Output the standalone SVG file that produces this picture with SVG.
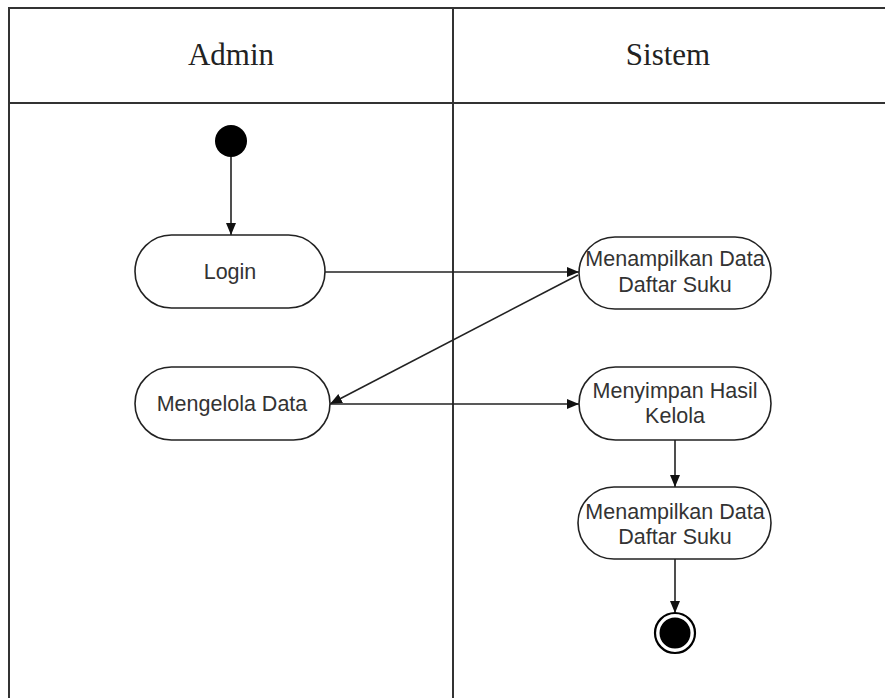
<svg xmlns="http://www.w3.org/2000/svg" width="885" height="698" viewBox="0 0 885 698">
<style>
.lane{fill:none;stroke:#333;stroke-width:2}
.act{fill:#fff;stroke:#222;stroke-width:1.6}
.hd{font-family:"Liberation Serif",serif;font-size:31px;fill:#222;text-anchor:middle}
.lbl{font-family:"Liberation Sans",Arial,sans-serif;font-size:21.5px;fill:#333;text-anchor:middle}
.edge{fill:none;stroke:#222;stroke-width:1.6;marker-end:url(#ah)}
</style>
<defs>
<marker id="ah" viewBox="0 0 12 10" refX="12" refY="5" markerWidth="12" markerHeight="10" markerUnits="userSpaceOnUse" orient="auto">
<path d="M0,0 L12,5 L0,10 Z" fill="#111"/>
</marker>
</defs>
<rect width="885" height="698" fill="#fff"/>
<g id="swimlanes">
<path class="lane" d="M9,698 V8 H886 M453,8 V698 M9,103 H886"/>
<text class="hd" x="231" y="65">Admin</text>
<text class="hd" x="668" y="65">Sistem</text>
</g>
<g id="connectors">
<path class="edge" d="M231,157 V235"/>
<path class="edge" d="M325,272 H579"/>
<path class="edge" d="M578,275 L330,404"/>
<path class="edge" d="M330,404 H579"/>
<path class="edge" d="M675,440 V487"/>
<path class="edge" d="M675,559 V613"/>
</g>
<g id="start"><circle cx="231" cy="141" r="16" fill="#000"/></g>
<g id="login">
<rect class="act" x="135" y="235" width="190" height="73" rx="36.5"/>
<text class="lbl" x="230" y="279">Login</text>
</g>
<g id="tampil1">
<rect class="act" x="579" y="237" width="192" height="72" rx="36"/>
<text class="lbl" x="675" y="266">Menampilkan Data</text>
<text class="lbl" x="675" y="292">Daftar Suku</text>
</g>
<g id="kelola">
<rect class="act" x="135" y="367" width="195" height="73" rx="36.5"/>
<text class="lbl" x="232" y="411">Mengelola Data</text>
</g>
<g id="simpan">
<rect class="act" x="579" y="367" width="192" height="73" rx="36.5"/>
<text class="lbl" x="675" y="398">Menyimpan Hasil</text>
<text class="lbl" x="675" y="423">Kelola</text>
</g>
<g id="tampil2">
<rect class="act" x="578" y="487" width="193" height="72" rx="36"/>
<text class="lbl" x="675" y="519">Menampilkan Data</text>
<text class="lbl" x="675" y="544">Daftar Suku</text>
</g>
<g id="end">
<circle cx="675" cy="633" r="20" fill="#fff" stroke="#000" stroke-width="2.2"/>
<circle cx="675" cy="633" r="15.5" fill="#000"/>
</g>
</svg>
